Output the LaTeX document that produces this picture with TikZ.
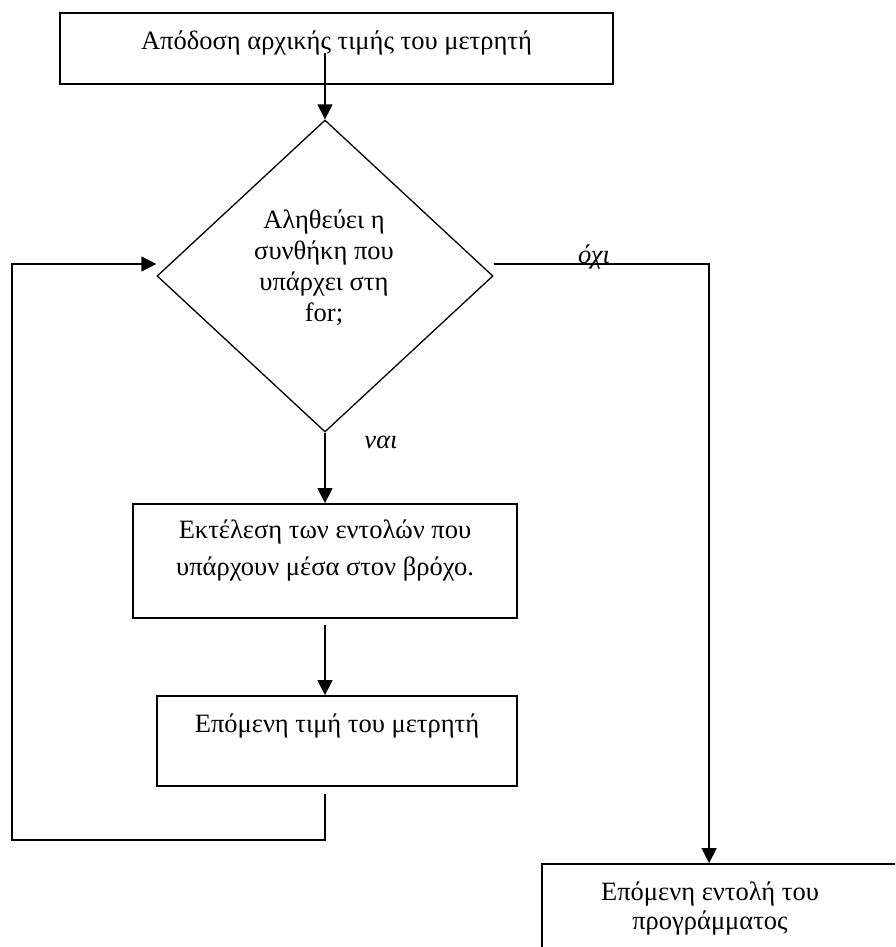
\documentclass[tikz,border=0pt]{standalone}
\usepackage{fontspec}
\setmainfont{Liberation Serif}
\usetikzlibrary{arrows.meta,shapes.geometric}
\begin{document}
\begin{tikzpicture}[x=1pt,y=-1pt,
  box/.style={draw, line width=1.8pt, rectangle, inner sep=0pt},
  decision/.style={draw, line width=1.3pt, diamond, inner sep=0pt},
  txt/.style={inner sep=0pt, align=center},
  lbl/.style={inner sep=0pt, font=\fontsize{26.5}{30}\selectfont\itshape},
  arr/.style={line width=1.5pt, -{Triangle[length=15pt,width=15pt]}}]
\useasboundingbox (0,0) rectangle (895,947);
\clip (0,0) rectangle (895,947);

% boxes of the flowchart
\node[box, minimum width=553pt, minimum height=71pt] (init) at (336.5,48.5) {};
\node[decision, minimum width=336pt, minimum height=312pt] (cond) at (325,276) {};
\node[box, minimum width=384pt, minimum height=114pt] (exec) at (325,561) {};
\node[box, minimum width=360pt, minimum height=90pt] (next) at (337,741) {};
\node[box, minimum width=400pt, minimum height=120pt] (done) at (742,924) {};

% texts (a multi-line node sits on the baseline of its last line)
\node[txt, anchor=base, font=\fontsize{26.5}{30}\selectfont] (tinit) at (336.5,50)
  {Απόδοση αρχικής τιμής του μετρητή};
\node[txt, anchor=base, font=\fontsize{26.5}{31}\selectfont] (tcond) at (324,321)
  {Αληθεύει η\\συνθήκη που\\υπάρχει στη\\for;};
\node[txt, anchor=base, font=\fontsize{26.5}{37}\selectfont] (texec) at (325,575)
  {Εκτέλεση των εντολών που\\υπάρχουν μέσα στον βρόχο.};
\node[txt, anchor=base, font=\fontsize{26.5}{30}\selectfont] (tnext) at (337,732)
  {Επόμενη τιμή του μετρητή};
\node[txt, anchor=base, font=\fontsize{26.5}{29}\selectfont] (tdone) at (710,929)
  {Επόμενη εντολή του\\προγράμματος};
\node[lbl, anchor=base] (yes) at (381,448) {ναι};
\node[lbl, anchor=base] (no) at (594,263) {όχι};

% connectors
\coordinate (lc) at (12,840);
\draw[arr] ([yshift=-4.5pt]init.center -| cond.north) -- (cond.north);
\draw[arr] (cond.south) -- (exec.north);
\draw[arr] ([yshift=-6pt]exec.south) -- (exec.south |- next.north);
\draw[arr] ([yshift=-7pt]exec.south |- next.south) |- (lc) |- ([yshift=12pt]cond.west);
\draw[arr] ([yshift=12pt]cond.east) -| ([xshift=168pt]done.north west);
\end{tikzpicture}
\end{document}
